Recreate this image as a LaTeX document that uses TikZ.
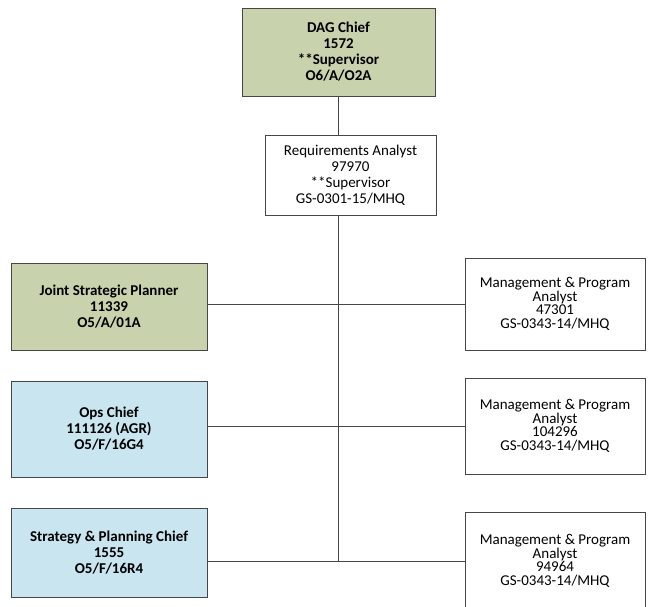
\documentclass[tikz,border=0pt]{standalone}
\usepackage{fontspec}
\setmainfont{Carlito}
\usetikzlibrary{positioning}
\definecolor{armygreen}{RGB}{200,211,173}
\definecolor{armyblue}{RGB}{200,229,240}
\definecolor{linegray}{RGB}{70,70,70}

\begin{document}
\begin{tikzpicture}[x=1pt, y=-1pt,
    box/.style={draw=linegray, line width=0.8pt, align=center, inner sep=2pt,
        font=\fontsize{15}{13.5}\selectfont},
    greenbox/.style={box, fill=armygreen, font=\fontsize{15}{16}\selectfont\bfseries},
    bluebox/.style={box, fill=armyblue, font=\fontsize{15}{16}\selectfont\bfseries},
    link/.style={draw=linegray, line width=0.8pt}]
    \useasboundingbox (0,0) rectangle (650,607);
    % Org chart
    \node[greenbox, minimum width=193pt, minimum height=88pt] (dag) at (338.5,52) {DAG Chief\\1572\\**Supervisor\\O6/A/O2A};
    \node[box, fill=white, minimum width=171pt, minimum height=80pt, font=\fontsize{15}{16}\selectfont] (req) at (350.5,175) {Requirements Analyst\\97970\\**Supervisor\\GS-0301-15/MHQ};

    \node[greenbox, minimum width=196pt, minimum height=87pt] (planner) at (109,306.5) {Joint Strategic Planner\\11339\\O5/A/01A};
    \node[bluebox, minimum width=196pt, minimum height=96pt] (ops) at (109,429) {Ops Chief\\111126 (AGR)\\O5/F/16G4};
    \node[bluebox, minimum width=196pt, minimum height=89pt] (strategy) at (109,552.5) {Strategy \& Planning Chief\\1555\\O5/F/16R4};

    \node[box, minimum width=180pt, minimum height=92pt] (mpa1) at (555,304) {Management \& Program\\Analyst\\47301\\GS-0343-14/MHQ};
    \node[box, minimum width=180pt, minimum height=96pt] (mpa2) at (555,426) {Management \& Program\\Analyst\\104296\\GS-0343-14/MHQ};
    \node[box, minimum width=180pt, minimum height=98pt] (mpa3) at (555,561) {Management \& Program\\Analyst\\94964\\GS-0343-14/MHQ};

    \draw[link] (dag.south) -- (dag.south |- req.north);
    \draw[link] (dag.south |- req.south) -- (dag.south |- mpa3.west);
    \draw[link] (planner.east |- mpa1.west) -- (mpa1.west);
    \draw[link] (ops.east |- mpa2.west) -- (mpa2.west);
    \draw[link] (strategy.east |- mpa3.west) -- (mpa3.west);
\end{tikzpicture}
\end{document}
